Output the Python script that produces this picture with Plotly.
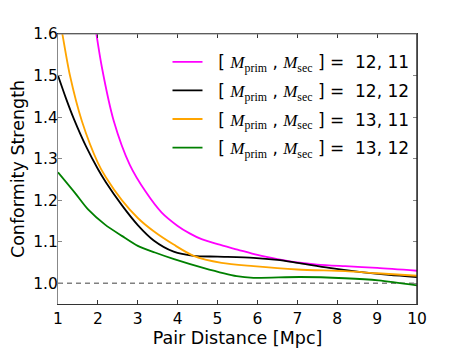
import plotly.graph_objects as go

# ---- data ----
labels = ["12, 11", "12, 12", "13, 11", "13, 12"]
colors = ["#FF00FF", "#000000", "#FFA500", "#008000"]

x_12_11 = [1.9, 2.1, 2.4, 2.8, 3.2, 3.6, 4.0, 4.3, 4.6, 5.0, 5.5, 6.0, 6.5, 7.0, 7.5, 8.2, 9.0, 10.0]
y_12_11 = [1.64, 1.52, 1.39, 1.285, 1.22, 1.17, 1.138, 1.12, 1.106, 1.094, 1.081, 1.068, 1.058, 1.050, 1.045, 1.041, 1.037, 1.030]

x_12_12 = [1.0, 1.2, 1.4, 1.7, 2.0, 2.2, 2.6, 3.0, 3.4, 3.9, 4.4, 5.0, 5.9, 6.5, 7.0, 7.8, 8.6, 9.3, 10.0]
y_12_12 = [1.50, 1.445, 1.395, 1.33, 1.275, 1.243, 1.188, 1.14, 1.103, 1.076, 1.066, 1.064, 1.061, 1.056, 1.049, 1.037, 1.027, 1.02, 1.015]

x_13_11 = [1.0, 1.11, 1.3, 1.6, 2.0, 2.2, 2.6, 3.0, 3.4, 3.9, 4.4, 5.1, 5.9, 7.0, 8.2, 9.0, 10.0]
y_13_11 = [1.66, 1.60, 1.50, 1.39, 1.29, 1.255, 1.20, 1.157, 1.125, 1.093, 1.066, 1.049, 1.041, 1.033, 1.029, 1.024, 1.018]

x_13_12 = [1.0, 1.43, 1.76, 2.18, 2.6, 3.0, 3.43, 3.91, 4.64, 5.48, 5.9, 7.07, 8.19, 9.03, 10.0]
y_13_12 = [1.267, 1.217, 1.177, 1.141, 1.114, 1.090, 1.074, 1.058, 1.037, 1.017, 1.013, 1.015, 1.012, 1.007, 0.995]

x_ref = [1.0, 10.0]
y_ref = [1.0, 1.0]

xs = [x_12_11, x_12_12, x_13_11, x_13_12]
ys = [y_12_11, y_12_12, y_13_11, y_13_12]

x_ticks = [1, 2, 3, 4, 5, 6, 7, 8, 9, 10]
y_ticks = [1.0, 1.1, 1.2, 1.3, 1.4, 1.5, 1.6]

SERIF = "font-family:'Liberation Serif'"
NB = "\u00a0"


def legend_label(v):
    return (f"{NB}{NB}[{NB}<span style=\"{SERIF}\"><i>M</i><sub>prim</sub></span>{NB},{NB}"
            f"<span style=\"{SERIF}\"><i>M</i><sub>sec</sub></span>{NB}]{NB}={NB}{NB}{v}")


fig = go.Figure()
fig.add_trace(go.Scatter(x=x_ref, y=y_ref, mode="lines", showlegend=False,
                         line=dict(color="#808080", width=1.5, dash="5px,4px"),
                         hoverinfo="skip"))
for i in range(4):
    fig.add_trace(go.Scatter(
        x=xs[i], y=ys[i], mode="lines", name=legend_label(labels[i]),
        legendgroup=f"g{i}",
        line=dict(color=colors[i], width=1.8, shape="spline", smoothing=0.8)))

# the page body adds an 8px offset, so the figure is 8px smaller and margins shifted
fig.update_layout(
    width=455, height=340,
    margin=dict(l=50, r=46, t=26, b=44, autoexpand=False),
    paper_bgcolor="white", plot_bgcolor="white",
    font=dict(family="DejaVu Sans", size=15.5, color="black"),
    showlegend=True,
    legend=dict(x=0.305, y=0.962, xanchor="left", yanchor="top",
                bgcolor="rgba(0,0,0,0)", font=dict(size=17),
                tracegroupgap=3.5, traceorder="grouped"),
    xaxis=dict(range=[1, 10], tickvals=x_ticks, ticktext=[str(v) for v in x_ticks],
               ticks="inside", ticklen=4, tickcolor="#333", showgrid=False,
               zeroline=False, showline=True, linecolor="#333", linewidth=1.2,
               mirror="ticks", automargin=False,
               title=dict(text="Pair Distance [Mpc]", font=dict(size=17.5), standoff=6)),
    yaxis=dict(range=[0.95, 1.6], tickvals=y_ticks, ticktext=[f"{v:.1f}" for v in y_ticks],
               ticks="inside", ticklen=4, tickcolor="#888", showgrid=False,
               zeroline=False, showline=True, linecolor="#888", linewidth=1.2,
               mirror="ticks", automargin=False, ticklabelstandoff=-4,
               title=dict(text="Conformity Strength", font=dict(size=17.5), standoff=6)),
)
# top (grey) and right (dark) frame edges
fig.add_shape(type="line", xref="paper", yref="paper", x0=0, x1=1, y0=1, y1=1,
              line=dict(color="#888", width=1.2))
fig.add_shape(type="line", xref="paper", yref="paper", x0=1, x1=1, y0=0, y1=1,
              line=dict(color="#222", width=1.4))

fig.write_html("out.html")
